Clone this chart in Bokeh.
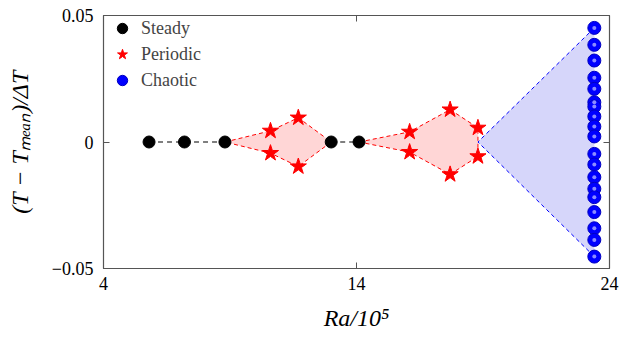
from bokeh.plotting import figure
from bokeh.models import (Range1d, FixedTicker, LinearAxis, Legend, LegendItem,
                          CustomLabelingPolicy)
from bokeh.embed import file_html
from bokeh.resources import INLINE

# ---- data ----
steady_ra = [5.8, 7.2, 8.8, 13.0, 14.1]
steady_val = [0, 0, 0, 0, 0]

periodic_ra = [10.6, 11.7, 16.1, 17.7, 18.8]
periodic_up = [0.0044, 0.0096, 0.0040, 0.0128, 0.0056]
periodic_lo = [-0.0044, -0.0097, -0.0040, -0.0128, -0.0057]

chaotic_ra = 23.4
chaotic_val = [0.0451, 0.0384, 0.0322, 0.0254, 0.0210, 0.0157, 0.0140, 0.0101,
               0.0061, 0.0022, -0.0047, -0.0089, -0.0139, -0.0185, -0.0218,
               -0.0277, -0.0341, -0.0387, -0.0453]

x_ticks = [4, 14, 24]
y_ticks = [-0.05, 0, 0.05]
y_tick_labels = {-0.05: "\u22120.05", 0: "0", 0.05: "0.05"}

FONT = "Liberation Serif"

p = figure(width=621, height=338, output_backend="svg", toolbar_location=None,
           x_range=Range1d(4, 24), y_range=Range1d(-0.05, 0.05),
           min_border_left=103, min_border_right=12, min_border_top=15,
           min_border_bottom=70)
p.background_fill_color = "white"
p.border_fill_color = "white"
p.grid.visible = False
p.outline_line_color = "#555555"
p.outline_line_width = 1.2

for ax in (p.xaxis[0], p.yaxis[0]):
    ax.axis_line_color = None
    ax.major_tick_in = 6
    ax.major_tick_out = 0
    ax.minor_tick_line_color = None
    ax.major_tick_line_color = "#555555"
    ax.major_label_text_font = FONT
    ax.major_label_text_font_size = "18px"
    ax.major_label_text_color = "black"
    ax.axis_label_text_font = FONT
    ax.axis_label_text_font_size = "24px"
    ax.axis_label_text_font_style = "italic"
    ax.axis_label_text_color = "black"

p.xaxis[0].ticker = FixedTicker(ticks=x_ticks)
p.yaxis[0].ticker = FixedTicker(ticks=y_ticks)
p.yaxis[0].major_label_overrides = y_tick_labels
p.xaxis[0].axis_label = "Ra/10\u2075"
p.yaxis[0].axis_label = "(T \u2212 T\u2098\u2091\u2090\u2099)/\u0394T"
p.xaxis[0].major_label_standoff = 8
p.yaxis[0].major_label_standoff = 10
p.xaxis[0].axis_label_standoff = 12
p.yaxis[0].axis_label_standoff = 16

# mirrored ticks (labels hidden by policy)
hide = "for (const i of indices) { indices.unset(i) } return indices"
top = LinearAxis(ticker=FixedTicker(ticks=x_ticks), major_label_text_font_size="2px",
                 axis_line_color=None, major_tick_in=6, major_tick_out=0,
                 minor_tick_line_color=None, major_tick_line_color="#555555",
                 major_label_standoff=0, major_label_policy=CustomLabelingPolicy(code=hide))
right = LinearAxis(ticker=FixedTicker(ticks=y_ticks), major_label_text_font_size="2px",
                   axis_line_color=None, major_tick_in=6, major_tick_out=0,
                   minor_tick_line_color=None, major_tick_line_color="#555555",
                   major_label_standoff=0, major_label_policy=CustomLabelingPolicy(code=hide))
p.add_layout(top, "above")
p.add_layout(right, "right")

# ---- shaded regions ----
g1x = [steady_ra[2], periodic_ra[0], periodic_ra[1], steady_ra[3], periodic_ra[1], periodic_ra[0]]
g1y = [0, periodic_up[0], periodic_up[1], 0, periodic_lo[1], periodic_lo[0]]
g2x = [steady_ra[4], periodic_ra[2], periodic_ra[3], periodic_ra[4], periodic_ra[4], periodic_ra[3], periodic_ra[2]]
g2y = [0, periodic_up[2], periodic_up[3], periodic_up[4], periodic_lo[4], periodic_lo[3], periodic_lo[2]]
red_fill = "#ffd6d6"
for xs, ys in ((g1x, g1y), (g2x, g2y)):
    p.patch(xs + [xs[0]], ys + [ys[0]], fill_color=red_fill, line_color="red",
            line_dash="4 3", line_width=1)

cx = [periodic_ra[4], chaotic_ra, chaotic_ra]
cy = [0, max(chaotic_val), min(chaotic_val)]
p.patch(cx, cy, fill_color="#d6d6fa", line_color=None)
p.line([chaotic_ra, periodic_ra[4], chaotic_ra], [max(chaotic_val), 0, min(chaotic_val)],
       line_color="blue", line_dash="4 3", line_width=1)

# steady dashed connectors
p.line(steady_ra[:3], steady_val[:3], line_color="black", line_dash="5 4", line_width=1.2)
p.line(steady_ra[3:], steady_val[3:], line_color="black", line_dash="5 4", line_width=1.2)

# ---- markers ----
r_steady = p.scatter(steady_ra, steady_val, marker="circle", size=12,
                     fill_color="black", line_color="black")
r_per = p.scatter(periodic_ra + periodic_ra, periodic_up + periodic_lo, marker="star",
                  size=17, fill_color="red", line_color="red")
cxs = [chaotic_ra] * len(chaotic_val)
r_ch = p.scatter(cxs, chaotic_val, marker="circle", size=13, fill_color="#0000ff",
                 line_color="#0000c0", line_width=1)
p.scatter(cxs, chaotic_val, marker="circle", size=4, fill_color="#8c8cff",
          line_color=None)

legend = Legend(items=[LegendItem(label="Steady", renderers=[r_steady]),
                       LegendItem(label="Periodic", renderers=[r_per]),
                       LegendItem(label="Chaotic", renderers=[r_ch])],
                location="top_left")
legend.background_fill_alpha = 0
legend.border_line_color = None
legend.label_text_font = FONT
legend.label_text_font_size = "18px"
legend.margin = 0
legend.padding = 3
legend.spacing = 0
legend.glyph_width = 38
legend.glyph_height = 26
legend.label_height = 26
legend.label_standoff = 0
p.add_layout(legend)

open("out.html", "w").write(file_html(p, INLINE))
